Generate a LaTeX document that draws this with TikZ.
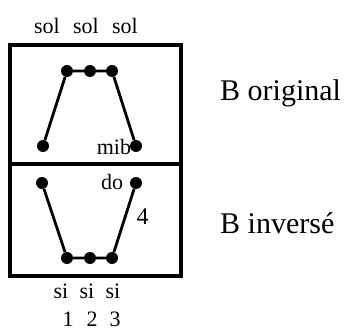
\documentclass[tikz,border=0pt]{standalone}
\usepackage{fontspec}
\setmainfont{Liberation Serif}
\usetikzlibrary{positioning}
\tikzset{
  note/.style={circle,fill=black,inner sep=0pt,minimum size=12pt},
  leg/.style={line width=2.8pt},
  frame/.style={line width=3.2pt},
  lab/.style={font=\fontsize{22}{22}\selectfont,inner sep=0.5pt},
  num/.style={font=\fontsize{22}{22}\selectfont,inner sep=0pt},
  title/.style={font=\fontsize{30}{30}\selectfont,anchor=west,inner sep=0pt},
}

\begin{document}
\begin{tikzpicture}[x=1pt,y=-1pt]
  \useasboundingbox (0,0) rectangle (351,331);
  % frame
  \draw[frame] (10,45) rectangle (181,276);
  \draw[frame] (10,164) -- (181,164);
  % original
  \node[note] (t1) at (43,146) {};
  \node[note] (t2) at (67,71) {};
  \node[note] (t3) at (90,71) {};
  \node[note] (t4) at (112,71) {};
  \node[note] (t5) at (136,146) {};
  \draw[leg] (t1) -- (t2) -- (t3) -- (t4) -- (t5);
  \node[lab] (s1) at (47,26) {sol};
  \node[lab] (s2) at (86,26) {sol};
  \node[lab] (s3) at (125,26) {sol};
  \node[lab,left=-2pt of t5,yshift=-1pt] (mib) {mib};
  % inverse
  \node[note] (u1) at (42,183) {};
  \node[note] (u2) at (67,258) {};
  \node[note] (u3) at (90,258) {};
  \node[note] (u4) at (112,258) {};
  \node[note] (u5) at (136,183) {};
  \draw[leg] (u1) -- (u2) -- (u3) -- (u4) -- (u5);
  \node[lab,left=6pt of u5,yshift=1.5pt] (do) {do};
  \node[num,font=\fontsize{24}{24}\selectfont] (four) at (142.5,216.5) {4};
  \node[lab] (i1) at (61,291) {si};
  \node[lab] (i2) at (87,291) {si};
  \node[lab] (i3) at (113,291) {si};
  \node[num] (n1) at (68,319) {1};
  \node[num] (n2) at (92,319) {2};
  \node[num] (n3) at (115,319) {3};
  % names
  \node[title] (orig) at (220,93) {B original};
  \node[title] (inv) at (220,223) {B inversé};
\end{tikzpicture}
\end{document}
